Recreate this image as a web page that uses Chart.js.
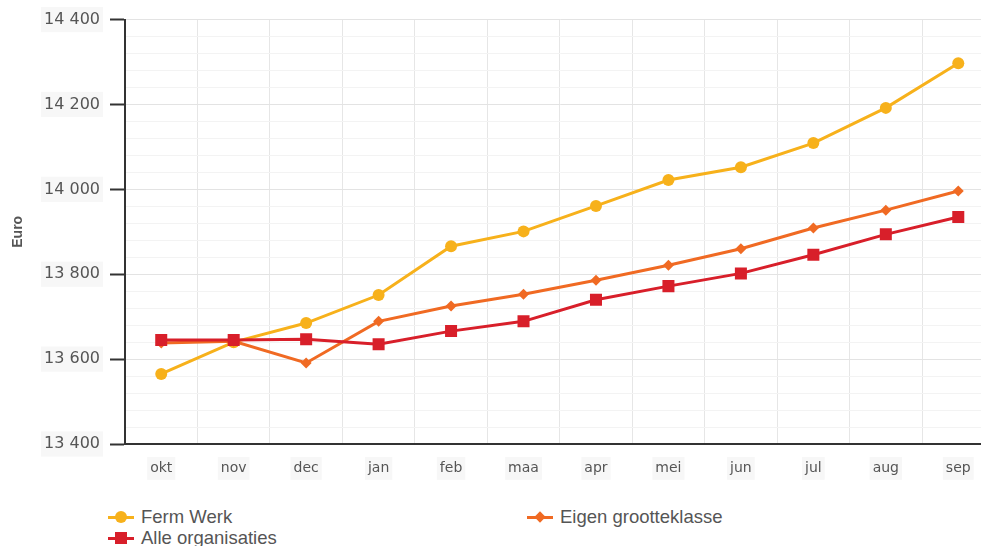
<!DOCTYPE html>
<html lang="nl">
<head>
  <meta charset="UTF-8">
  <title>Euro per maand</title>
  <script src="https://cdn.jsdelivr.net/npm/chart.js"></script>
  <style>
    body {
      margin: 0;
      background: #fff;
      overflow: hidden;
      width: 981px;
      height: 546px;
      position: relative;
    }

    #chart {
      position: absolute;
      left: 0;
      top: 0;
    }

    .item {
      position: absolute;
      display: flex;
      align-items: center;
      font: 18.5px "Liberation Sans", Arial, sans-serif;
      color: #555;
      white-space: nowrap;
      transform: translateY(-50%);
    }

    .mark {
      position: relative;
      width: 26px;
      height: 14px;
      margin-right: 7px;
    }

    .mark .ln {
      position: absolute;
      left: 0;
      right: 0;
      top: 6px;
      height: 3px;
    }

    .mark .pt {
      position: absolute;
      left: 50%;
      top: 50%;
    }
  </style>
</head>
<body>
  <canvas id="chart" width="1003" height="490"></canvas>
  <div id="legend"></div>

  <script>
    // ---------------- Data ---------------- //
    const months = ['okt', 'nov', 'dec', 'jan', 'feb', 'maa', 'apr', 'mei', 'jun', 'jul', 'aug', 'sep'];
    const seriesNames = ['Ferm Werk', 'Eigen grootteklasse', 'Alle organisaties'];
    const fermWerk = [13565, 13640, 13685, 13751, 13866, 13901, 13961, 14022, 14052, 14109, 14192, 14297];
    const eigenGrootteklasse = [13638, 13642, 13591, 13689, 13725, 13753, 13786, 13821, 13860, 13909, 13951, 13996];
    const alleOrganisaties = [13645, 13645, 13647, 13635, 13666, 13689, 13740, 13772, 13802, 13846, 13894, 13935];
    const yMin = 13400;
    const yMax = 14400;
    const yMajorStep = 200;
    const yMinorStep = 40;

    const colors = ['#f7b11b', '#f06a23', '#d81f2a'];
    const shapes = ['circle', 'rectRot', 'rect'];
    const radii = [6, 5.5, 8.5];

    const fmt = v => String(v).replace(/\B(?=(\d{3})+(?!\d))/g, ' ');
    const isMajor = v => v % yMajorStep === 0;

    const datasets = [fermWerk, eigenGrootteklasse, alleOrganisaties].map((data, i) => ({
      label: seriesNames[i],
      data: data,
      borderColor: colors[i],
      backgroundColor: colors[i],
      borderWidth: 3,
      pointStyle: shapes[i],
      pointRadius: radii[i],
      pointHoverRadius: radii[i],
      pointBorderWidth: 0,
      order: 2 - i,
      tension: 0
    }));

    // ---------------- Chart ---------------- //
    const ctx = document.getElementById('chart').getContext('2d');
    const chart = new Chart(ctx, {
      type: 'line',
      data: { labels: months, datasets: datasets },
      options: {
        responsive: false,
        animation: false,
        layout: { padding: { top: 14, right: 4, bottom: 0, left: 0 } },
        plugins: {
          legend: { display: false },
          tooltip: { enabled: false }
        },
        scales: {
          x: {
            offset: true,
            grid: { offset: true, color: '#e6e6e6', drawTicks: false },
            border: { color: '#333', width: 2 },
            ticks: {
              padding: 16,
              color: '#555',
              font: { family: 'DejaVu Sans', size: 14 },
              showLabelBackdrop: true,
              backdropColor: '#f7f7f7',
              backdropPadding: 3
            },
            afterFit: s => { s.height = 46; }
          },
          y: {
            min: yMin,
            max: yMax,
            grid: {
              color: c => c.tick && isMajor(c.tick.value) ? '#e3e3e3' : '#f3f3f3',
              tickColor: c => c.tick && isMajor(c.tick.value) ? '#333' : 'rgba(0,0,0,0)',
              tickLength: 15,
              tickWidth: 2
            },
            border: { color: '#333', width: 2 },
            ticks: {
              stepSize: yMinorStep,
              autoSkip: false,
              padding: 10,
              color: '#555',
              font: { family: 'DejaVu Sans', size: 16 },
              callback: v => isMajor(v) ? fmt(v) : '',
              showLabelBackdrop: true,
              backdropColor: c => c.tick && isMajor(c.tick.value) ? '#f7f7f7' : 'rgba(0,0,0,0)',
              backdropPadding: 3
            },
            title: {
              display: true,
              text: 'Euro',
              color: '#555',
              font: { family: 'Liberation Sans', size: 14, weight: 'bold' },
              padding: { top: 10, bottom: 0 }
            },
            afterFit: s => { s.width = 125; }
          }
        }
      }
    });

    // ---------------- Legend (two columns) ---------------- //
    const legendSpots = [[108, 517], [527, 517], [108, 538]];
    const legend = document.getElementById('legend');
    chart.data.datasets.forEach((ds, i) => {
      const item = document.createElement('div');
      item.className = 'item';
      item.style.left = legendSpots[i][0] + 'px';
      item.style.top = legendSpots[i][1] + 'px';

      const mark = document.createElement('span');
      mark.className = 'mark';
      const ln = document.createElement('span');
      ln.className = 'ln';
      ln.style.background = ds.borderColor;
      const pt = document.createElement('span');
      pt.className = 'pt';
      pt.style.background = ds.backgroundColor;
      let size = 12;
      let tf = 'translate(-50%,-50%)';
      if (ds.pointStyle === 'circle') pt.style.borderRadius = '50%';
      if (ds.pointStyle === 'rectRot') { size = 8; tf += ' rotate(45deg)'; }
      pt.style.width = size + 'px';
      pt.style.height = size + 'px';
      pt.style.transform = tf;
      mark.appendChild(ln);
      mark.appendChild(pt);

      const txt = document.createElement('span');
      txt.textContent = ds.label;
      item.appendChild(mark);
      item.appendChild(txt);
      legend.appendChild(item);
    });
  </script>
</body>
</html>
